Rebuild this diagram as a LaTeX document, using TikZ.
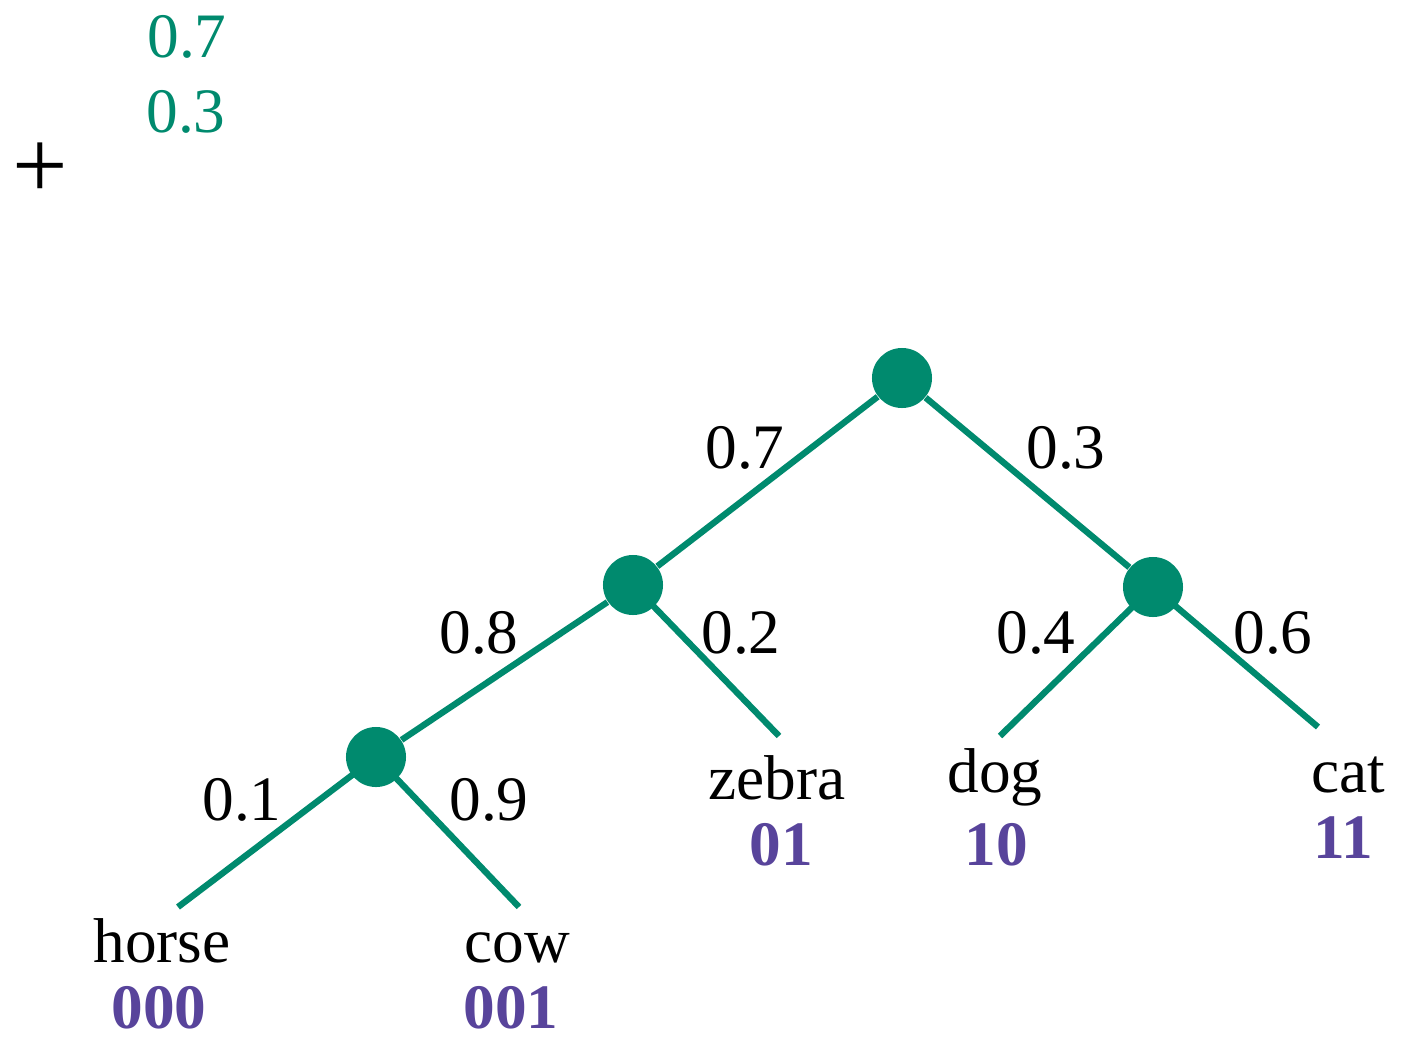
\documentclass[tikz,border=0pt]{standalone}
\usepackage{fontspec}
\setmainfont{Liberation Serif}
\usetikzlibrary{positioning}
\definecolor{treegreen}{RGB}{0, 138, 110}
\definecolor{codepurple}{RGB}{88, 68, 155}

\tikzset{
  branch/.style={line width=1.8pt, treegreen},
  inner/.style={circle, fill=treegreen, inner sep=0pt, minimum size=0.6cm},
  prob/.style={font=\fontsize{18}{20}\selectfont, anchor=base, inner sep=0pt},
  leaf/.style={font=\fontsize{18}{20}\selectfont, anchor=base, inner sep=0pt},
  code/.style={font=\fontsize{18}{20}\selectfont\bfseries, codepurple, anchor=base, inner sep=0pt}
}

\begin{document}
\begin{tikzpicture}[x=0.01cm, y=-0.01cm]
  \useasboundingbox (0,0) rectangle (1402,1039);

  % legende oben links
  \node[prob, treegreen] (p7) at (187,57) {0.7};
  \node[prob, treegreen] (p3) at (186,132) {0.3};
  \node[font=\fontsize{28}{30}\selectfont, inner sep=0pt] (plus) at (40,171) {+};

  % innere knoten
  \node[inner] (root) at (902,378) {};
  \node[inner] (left) at (633,585) {};
  \node[inner] (right) at (1153,587) {};
  \node[inner] (leftleft) at (376,757) {};

  % enden der blaetter
  \coordinate (horseend) at (178,907);
  \coordinate (cowend) at (519,907);
  \coordinate (zebraend) at (779,736);
  \coordinate (dogend) at (1000,736);
  \coordinate (catend) at (1318,727);

  % kanten
  \draw[branch] (root) -- (left);
  \draw[branch] (root) -- (right);
  \draw[branch] (left) -- (leftleft);
  \draw[branch] (left.center) -- (zebraend);
  \draw[branch] (right.center) -- (dogend);
  \draw[branch] (right.center) -- (catend);
  \draw[branch] (leftleft.center) -- (horseend);
  \draw[branch] (leftleft.center) -- (cowend);

  % wahrscheinlichkeiten
  \node[prob] (e07) at (745,468) {0.7};
  \node[prob] (e03) at (1066,468) {0.3};
  \node[prob] (e08) at (479,653) {0.8};
  \node[prob] (e02) at (741,653) {0.2};
  \node[prob] (e04) at (1036,653) {0.4};
  \node[prob] (e06) at (1273,653) {0.6};
  \node[prob] (e01) at (242,820) {0.1};
  \node[prob] (e09) at (489,820) {0.9};

  % blaetter und codes
  \node[leaf] (horse) at (162,962) {horse};
  \node[code] (horsecode) at (159,1028) {000};
  \node[leaf] (cow) at (517,962) {cow};
  \node[code] (cowcode) at (511,1028) {001};
  \node[leaf] (zebra) at (777,799) {zebra};
  \node[code] (zebracode) at (781,865) {01};
  \node[leaf] (dog) at (995,792) {dog};
  \node[code] (dogcode) at (996,865) {10};
  \node[leaf] (cat) at (1348,792) {cat};
  \node[code] (catcode) at (1343,858) {11};
\end{tikzpicture}
\end{document}
